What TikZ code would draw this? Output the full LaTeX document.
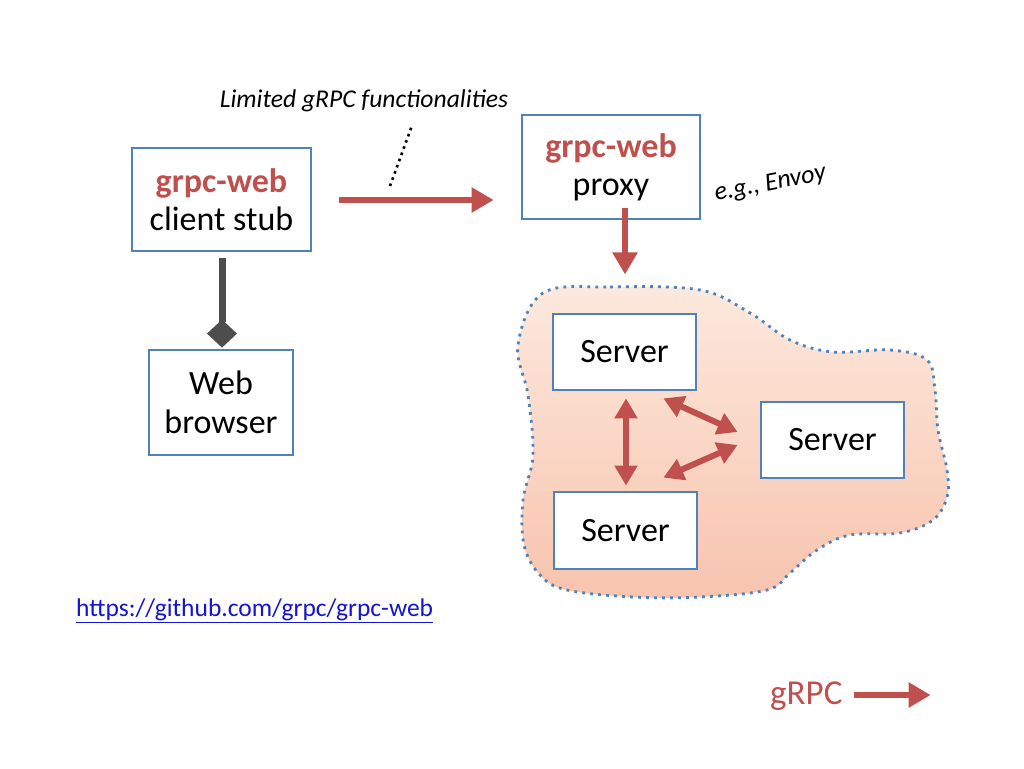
\documentclass[tikz,border=0pt]{standalone}
\usepackage{fontspec}
\setmainfont{Carlito}
\usetikzlibrary{arrows.meta,calc}
\definecolor{boxblue}{RGB}{79,129,189}
\definecolor{arrred}{RGB}{192,80,77}
\definecolor{darkgr}{RGB}{77,77,77}
\definecolor{linkblue}{RGB}{20,20,210}
\definecolor{cloudtop}{RGB}{252,233,222}
\definecolor{cloudbot}{RGB}{248,196,174}
\begin{document}
\begin{tikzpicture}[x=1pt,y=-1pt,
  box/.style={draw=boxblue, line width=2.8pt, fill=white, inner sep=0pt, align=center,
    font=\fontsize{34}{38}\selectfont},
  redarrow/.style={draw=arrred, fill=arrred, line width=6.5pt, -{Triangle[length=22pt,width=24pt]}},
  dblarrow/.style={draw=arrred, fill=arrred, line width=6pt,
    {Triangle[length=20pt,width=22pt]}-{Triangle[length=20pt,width=22pt]}},
  cloud/.style={draw=boxblue, line width=2.8pt, dash pattern=on 2.8pt off 5.2pt,
    top color=cloudtop, bottom color=cloudbot},
  label/.style={inner sep=0pt, font=\fontsize{25.6}{30}\selectfont\itshape},
  composite/.style={draw=darkgr, line width=7pt}
]
\useasboundingbox (0,0) rectangle (1024,768);
\fill[white] (0,0) rectangle (1024,768);

% cloud
\path[cloud] plot[smooth cycle, tension=0.6] coordinates {
  (543,293) (610,287) (700,290) (750,313) (790,340) (833,352) (890,350) (927,360)
  (935,390) (938,430) (947,470) (947,497) (933,520) (900,533) (850,535) (817,550)
  (790,573) (767,590) (700,597) (633,597) (567,590) (540,575) (524,545) (523,500)
  (533,455) (528,395) (518,345)};

% boxes
\node[box, minimum width=179pt, minimum height=103pt] (client) at (221.5,199.5)
  {\textcolor{arrred}{\textbf{grpc-web}}\\client stub};
\node[box, minimum width=178pt, minimum height=104pt] (proxy) at (611,167)
  {\textcolor{arrred}{\textbf{grpc-web}}\\proxy};
\node[box, minimum width=144pt, minimum height=105pt, font=\fontsize{34}{39}\selectfont] (browser) at (221,402.5)
  {Web\\browser};
\node[box, minimum width=143pt, minimum height=76pt] (s1) at (624.5,352) {Server};
\node[box, minimum width=143pt, minimum height=76pt] (s2) at (832.5,440) {Server};
\node[box, minimum width=143pt, minimum height=77pt] (s3) at (625.5,530.5) {Server};

% labels
\node[label, anchor=base] (lim) at (364,107) {Limited gRPC functionalities};
\node[label, anchor=base west, rotate=11, font=\fontsize{26}{30}\selectfont\itshape] (envoy) at (716,201) {e.g., Envoy};
\node[inner sep=0pt, anchor=base west, text=linkblue, font=\fontsize{25.5}{30}\selectfont] (url) at (76,616)
  {\underline{https://github.com/grpc/grpc-web}};
\node[inner sep=0pt, anchor=base west, text=arrred, font=\fontsize{35}{40}\selectfont] (leg) at (770,704) {gRPC};

% connectors
\coordinate (ca) at ($(client.east)+(27,0.5)$);
\coordinate (cb) at ($(ca -| proxy.west)+(-27,0)$);
\draw[redarrow] (ca) -- (cb);
\coordinate (dotb) at (390,186);
\draw[black, line width=2.6pt, dash pattern=on 2.6pt off 4pt] (dotb) -- ($(lim.south)+(48,14)$);
\draw[redarrow] ([xshift=14pt, yshift=12pt]proxy.south) -- ++(0,66);
\coordinate (dtip) at ($(browser.north)+(1,-1)$);
\draw[composite] ($(dtip |- client.south)+(0,6)$) -- ($(dtip)+(0,-26)$);
\fill[darkgr] (dtip) -- ++(15,-14) -- ++(-15,-14) -- ++(-15,14) -- cycle;
\draw[dblarrow] ($(s1.south)+(1.5,7)$) -- ($(s3.north)+(0.5,-5)$);
\draw[dblarrow] ($(s1.south east)+(-34,7)$) -- ($(s2.west)+(-22,-8)$);
\draw[dblarrow] ($(s3.north east)+(-35,-13)$) -- ($(s2.west)+(-22,5)$);
\coordinate (la) at ([xshift=11pt]leg.east);
\coordinate (ly) at (0,695);
\draw[redarrow] (la |- ly) -- ++(77,0);
\end{tikzpicture}
\end{document}
